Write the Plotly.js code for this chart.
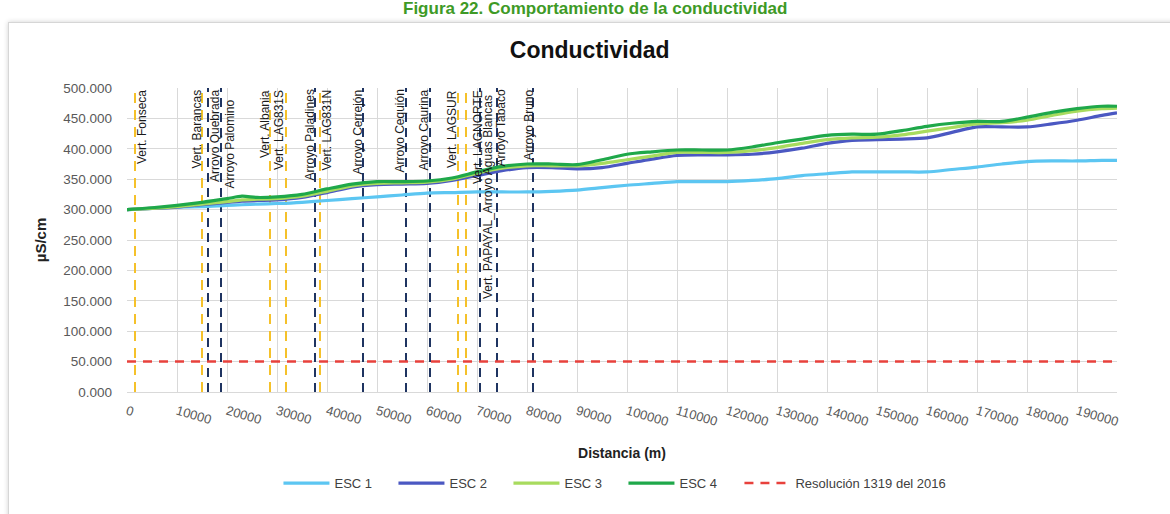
<!DOCTYPE html>
<html><head><meta charset="utf-8">
<script src="https://cdn.plot.ly/plotly-3.0.1.min.js"></script>
<style>
html,body{margin:0;padding:0;background:#fff;width:1170px;height:514px;overflow:hidden;}
#frame{position:absolute;left:8px;top:22px;width:1180px;height:520px;border:1px solid #d6d6d6;box-shadow:0 0 5px rgba(0,0,0,0.18);background:#fff;}
#chart{position:absolute;left:0;top:0;width:1170px;height:514px;}
</style></head><body>
<div id="frame"></div><div id="chart"></div>
<script>
// ---- data ----
const distance = [0,5000,10000,15000,20000,23000,26000,30000,35000,40000,45000,50000,55000,60000,65000,70000,75000,80000,85000,90000,95000,100000,105000,110000,115000,120000,125000,130000,135000,140000,145000,150000,155000,160000,165000,170000,175000,180000,185000,190000,195000,198000];
const esc1 = [300,302,304,305,307,308,309,310,312,315,318,321,324,327,328,329,329,329,330,332,336,340,343,346,346,346,348,351,356,359,362,362,362,362,366,370,375,379,380,380,381,381];
const esc2 = [300,302,304,308,312,314,315,316,320,328,337,341,342,343,348,356,364,369,369,367,369,376,383,389,390,390,391,395,401,409,414,415,416,418,427,436,436,436,441,447,455,459];
const esc3 = [300,302,305,309,313,316,317,318,322,330,339,343,344,345,350,360,368,372,372,372,376,382,388,394,394,394,397,402,409,415,418,419,423,429,435,441,443,447,455,462,466,467];
const esc4 = [300,303,307,312,318,322,320,321,325,334,342,346,346,347,352,362,371,375,375,374,382,391,395,398,398,398,403,410,416,422,424,424,430,437,442,445,445,452,460,466,470,470];
const limitX = [0,198000];
const limitY = [50,50];
const pointNames = ["Vert. Fonseca","Vert. Barancas","Arroyo Quebrada","Arroyo Palomino","Vert. Albania","Vert. LAG831S","Arroyo Paladines","Vert. LAG831N","Arroyo Cerrejón","Arroyo Cequión","Arroyo Caurina","Vert. LAGSUR","Vert. LAGNORTE","Vert. PAPAYAL_Arroyo Aguas Blancas","Arroyo Tabaco","Arroyo Bruno"];
const pointDist = [1600,15000,16200,18800,28600,31800,37600,38600,47200,55800,60600,66200,67800,70600,74000,81200];
const pointType = ["V","V","A","A","V","V","A","V","A","A","A","V","V","A","A","A"];
const seriesNames = ["ESC 1","ESC 2","ESC 3","ESC 4","Resolución 1319 del 2016"];

// ---- label placement (pixels) ----
const labelXShift = [7,-6,7,8,-5,-7,-6,6,-6,-7,-7,-6,12,8,3,-5];
const labelYShift = [0,0,0,-10,0,0,0,0,0,0,0,0,0,-5,0,0];

const NARROW = "Liberation Sans Narrow, Arial Narrow, Liberation Sans, Arial, sans-serif";
const SANS = "Liberation Sans, Arial, sans-serif";

const traces = [];
pointDist.forEach((d,i)=>{
  traces.push({
    x:[d,d], y:[0,500], mode:'lines', showlegend:false, hoverinfo:'skip',
    line: pointType[i]==='V' ? {color:'#F5C12A', width:2, dash:'10px,7px'} : {color:'#1F3461', width:2, dash:'9px,6px'}
  });
});
const colors = ['#5CC6F2','#4B58C2','#A8DB5E','#1FA84A'];
[esc1,esc2,esc3,esc4].forEach((s,i)=>{
  traces.push({x:distance, y:s, name:seriesNames[i], mode:'lines', legend:'legend',
    line:{color:colors[i], width:3.2, shape:'spline', smoothing:0.8}});
});
traces.push({x:limitX, y:limitY, name:seriesNames[4], mode:'lines', legend:'legend2',
  line:{color:'#E8413C', width:2.5, dash:'9px,7px'}});

const annotations = pointNames.map((n,i)=>({
  x:pointDist[i], y:500, xref:'x', yref:'y', text:n, showarrow:false,
  textangle:-90, xanchor:'center', yanchor:'top', xshift:labelXShift[i], yshift:labelYShift[i],
  font:{family:SANS, size:12, color:'#1a1a1a'}
}));
annotations.push({
  text:'<b>Figura 22. Comportamiento de la conductividad</b>', xref:'paper', yref:'paper',
  x:0.4727, y:1.26, xanchor:'center', yanchor:'middle', showarrow:false,
  font:{family:SANS, size:17, color:'#3E9A26'}
});

const legendFont = {family:NARROW, size:13, color:'#404040'};
const layout = {
  width:1170, height:514,
  margin:{l:127, r:53, t:88, b:122},
  paper_bgcolor:'rgba(0,0,0,0)', plot_bgcolor:'rgba(0,0,0,0)',
  title:{text:'<b>Conductividad</b>', xref:'container', x:0.504, y:0.903, yanchor:'middle', xanchor:'center',
    font:{family:NARROW, size:23, color:'#111'}},
  xaxis:{range:[0,198000], tick0:0, dtick:10000, tickformat:'d', tickangle:16,
    showgrid:true, gridcolor:'#D9D9D9', gridwidth:1, zeroline:false, showline:true, linecolor:'#D9D9D9',
    ticks:'', ticklabelstandoff:6, tickfont:{family:SANS, size:13, color:'#595959'},
    title:{text:'<b>Distancia (m)</b>', standoff:20, font:{family:SANS, size:14, color:'#222'}}},
  yaxis:{range:[0,500], dtick:50, tickformat:'.3f', showgrid:true, gridcolor:'#D9D9D9', gridwidth:1,
    zeroline:false, showline:false, ticks:'', ticklabelstandoff:14,
    tickfont:{family:SANS, size:13.5, color:'#595959'},
    title:{text:'<b>µS/cm</b>', standoff:12, font:{family:SANS, size:15, color:'#222'}}},
  legend:{orientation:'h', xref:'container', yref:'container', x:0.238, y:0.06, xanchor:'left', yanchor:'middle',
    itemwidth:46, entrywidth:54, entrywidthmode:'pixels', font:legendFont, bgcolor:'rgba(0,0,0,0)'},
  legend2:{orientation:'h', xref:'container', yref:'container', x:0.632, y:0.06, xanchor:'left', yanchor:'middle',
    itemwidth:46, font:legendFont, bgcolor:'rgba(0,0,0,0)'},
  annotations:annotations,
  hovermode:false,
  showlegend:true
};
Plotly.newPlot('chart', traces, layout, {displayModeBar:false, staticPlot:true});
</script>
</body></html>
